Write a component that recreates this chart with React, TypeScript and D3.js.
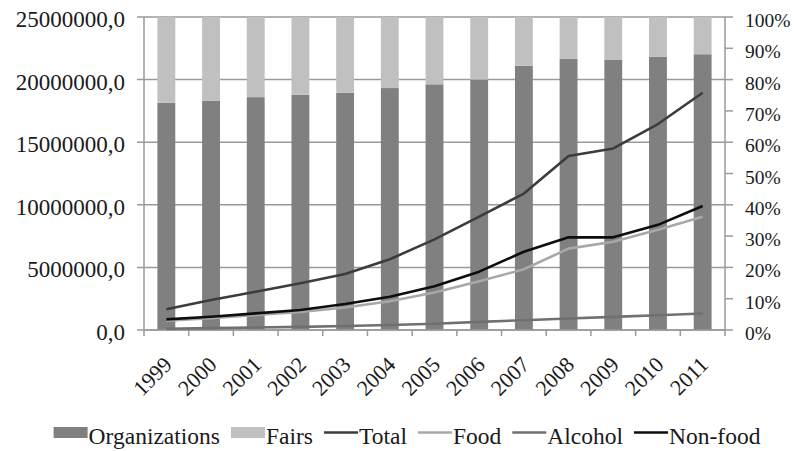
import React, { useEffect, useRef } from "react";
import * as d3 from "d3";

const years = ["1999","2000","2001","2002","2003","2004","2005","2006","2007","2008","2009","2010","2011"];
const organizationsPct = [72.6,73.3,74.4,75.2,75.8,77.3,78.5,80.0,84.4,86.7,86.4,87.3,88.1];
const fairsPct = organizationsPct.map((v) => 100 - v);
const total = [1650000,2400000,3060000,3730000,4470000,5650000,7240000,9050000,10900000,13900000,14500000,16450000,18950000];
const food = [750000,950000,1200000,1450000,1800000,2300000,3000000,3900000,4850000,6500000,7050000,8000000,9050000];
const alcohol = [100000,150000,200000,250000,320000,400000,500000,650000,780000,920000,1050000,1180000,1320000];
const nonFood = [850000,1060000,1330000,1600000,2080000,2660000,3500000,4660000,6250000,7400000,7400000,8400000,9900000];
const leftTicks = [0,5000000,10000000,15000000,20000000,25000000];
const rightTicks = [0,10,20,30,40,50,60,70,80,90,100];

const W = 808, H = 451;
const FONT = "'Liberation Serif', 'DejaVu Serif', serif";

export default function App() {
  const ref = useRef<SVGSVGElement>(null);
  useEffect(() => {
    const svg = d3.select(ref.current);
    svg.selectAll("*").remove();
    const m = { l: 144, r: 725, t: 17, b: 330 };
    const x = d3.scaleBand<string>().domain(years).range([m.l, m.r]).paddingInner(0.6).paddingOuter(0.3);
    const yL = d3.scaleLinear().domain([0, 25000000]).range([m.b, m.t]);
    const yR = d3.scaleLinear().domain([0, 100]).range([m.b, m.t]);
    const cx = (i: number) => (x(years[i]) as number) + x.bandwidth() / 2;
    const gridC = "#9a9a9a";
    const textC = "#1a1a1a";

    // gridlines
    svg.append("g").selectAll("line").data(leftTicks).join("line")
      .attr("x1", m.l - 7).attr("x2", m.r).attr("y1", (d) => yL(d)).attr("y2", (d) => yL(d))
      .attr("stroke", gridC).attr("stroke-width", 1.5);

    // bars
    const gb = svg.append("g");
    years.forEach((yr, i) => {
      gb.append("rect").attr("x", x(yr) as number).attr("width", x.bandwidth())
        .attr("y", yR(organizationsPct[i])).attr("height", yR(0) - yR(organizationsPct[i]))
        .attr("fill", "#808080");
      gb.append("rect").attr("x", x(yr) as number).attr("width", x.bandwidth())
        .attr("y", yR(organizationsPct[i] + fairsPct[i])).attr("height", yR(0) - yR(fairsPct[i]))
        .attr("fill", "#c0c0c0");
    });

    // axes
    svg.append("line").attr("x1", m.l).attr("x2", m.l).attr("y1", m.t).attr("y2", m.b).attr("stroke", gridC).attr("stroke-width", 1.5);
    svg.append("line").attr("x1", m.r).attr("x2", m.r).attr("y1", m.t).attr("y2", m.b).attr("stroke", gridC).attr("stroke-width", 1.5);
    svg.append("line").attr("x1", m.l).attr("x2", m.r).attr("y1", m.b).attr("y2", m.b).attr("stroke", gridC).attr("stroke-width", 1.5);
    svg.append("g").selectAll("line").data(rightTicks).join("line")
      .attr("x1", m.r).attr("x2", m.r + 8).attr("y1", (d) => yR(d)).attr("y2", (d) => yR(d))
      .attr("stroke", gridC).attr("stroke-width", 1.5);
    const bounds = years.map((yr) => x(yr) as number - x.step() * x.paddingInner() / 2);
    bounds.push(m.r);
    svg.append("g").selectAll("line").data(bounds).join("line")
      .attr("x1", (d) => d).attr("x2", (d) => d).attr("y1", m.b).attr("y2", m.b + 6)
      .attr("stroke", gridC).attr("stroke-width", 1.5);

    // left labels
    svg.append("g").selectAll("text").data(leftTicks).join("text")
      .attr("x", m.l - 19).attr("y", (d) => yL(d) + 10).attr("text-anchor", "end")
      .attr("font-family", FONT).attr("font-size", 23).attr("fill", textC)
      .text((d) => d3.format(".1f")(d).replace(".", ","));
    // right labels
    svg.append("g").selectAll("text").data(rightTicks).join("text")
      .attr("x", m.r + 20).attr("y", (d) => yR(d) + 10)
      .attr("font-family", FONT).attr("font-size", 19.5).attr("fill", textC)
      .text((d) => d + "%");
    // year labels
    svg.append("g").selectAll("text").data(years).join("text")
      .attr("transform", (d, i) => `translate(${cx(i) + 7},${m.b + 36}) rotate(-45)`)
      .attr("text-anchor", "end")
      .attr("font-family", FONT).attr("font-size", 22).attr("fill", textC)
      .text((d) => d);

    // lines
    const series = [
      { name: "Total", values: total, color: "#3c3c3c" },
      { name: "Food", values: food, color: "#a8a8a8" },
      { name: "Alcohol", values: alcohol, color: "#707070" },
      { name: "Non-food", values: nonFood, color: "#0d0d0d" },
    ];
    const line = d3.line<number>().x((d, i) => cx(i)).y((d) => yL(d));
    const drawOrder = [2, 1, 3, 0];
    drawOrder.forEach((k) => {
      const s = series[k];
      svg.append("path").attr("d", line(s.values) as string).attr("fill", "none")
        .attr("stroke", s.color).attr("stroke-width", 2.6).attr("stroke-linejoin", "round");
    });

    // legend
    const items = [
      { name: "Organizations", type: "rect", color: "#808080" },
      { name: "Fairs", type: "rect", color: "#c0c0c0" },
      ...series.map((s) => ({ name: s.name, type: "line", color: s.color })),
    ];
    const lg = svg.append("g");
    let cur = 0;
    const ly = 432.5;
    items.forEach((it) => {
      if (it.type === "rect") {
        lg.append("rect").attr("x", cur).attr("y", ly - 5.5).attr("width", 34).attr("height", 11).attr("fill", it.color);
      } else {
        lg.append("line").attr("x1", cur).attr("x2", cur + 34).attr("y1", ly).attr("y2", ly)
          .attr("stroke", it.color).attr("stroke-width", 2.6);
      }
      const t = lg.append("text").attr("x", cur + 35).attr("y", ly + 11.5)
        .attr("font-family", FONT).attr("font-size", 23.5).attr("fill", textC).text(it.name);
      const w = (t.node() as SVGTextElement).getComputedTextLength();
      cur += 35 + w + 11;
    });
    const totalW = cur - 11;
    lg.attr("transform", `translate(${407 - totalW / 2},0)`);
  }, []);
  return (
    <svg ref={ref} width={W} height={H} style={{ position: "absolute", left: 0, top: 0, background: "#fff" }} />
  );
}
